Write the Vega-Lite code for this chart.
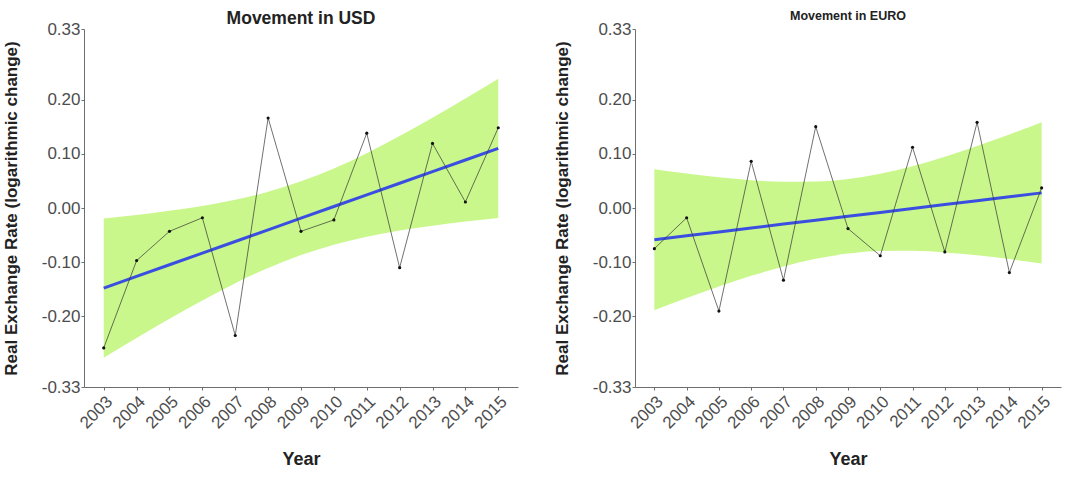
{
  "$schema": "https://vega.github.io/schema/vega-lite/v6.json",
  "background": "white",
  "padding": {"left": 2, "top": 9, "right": 5, "bottom": 5},
  "config": {
    "font": "Liberation Sans",
    "view": {"stroke": null},
    "axis": {
      "grid": false,
      "domainColor": "#6e6e6e",
      "domainWidth": 1,
      "tickColor": "#6e6e6e",
      "tickSize": 3,
      "labelFont": "Liberation Sans",
      "labelFontSize": 17,
      "labelColor": "#4d4d4d",
      "labelOverlap": false,
      "titleFont": "Liberation Sans",
      "titleFontSize": 17,
      "titleFontWeight": "bold",
      "titleColor": "#222222"
    },
    "concat": {"spacing": 35}
  },
  "datasets": {
    "usd": [
      {"year": 2003, "value": -0.258, "fit": -0.1476, "lo": -0.2760, "hi": -0.0192},
      {"year": 2004, "value": -0.097, "fit": -0.1261, "lo": -0.2395, "hi": -0.0127},
      {"year": 2005, "value": -0.043, "fit": -0.1046, "lo": -0.2041, "hi": -0.0051},
      {"year": 2006, "value": -0.018, "fit": -0.0832, "lo": -0.1703, "hi": 0.0039},
      {"year": 2007, "value": -0.235, "fit": -0.0617, "lo": -0.1387, "hi": 0.0153},
      {"year": 2008, "value": 0.166, "fit": -0.0403, "lo": -0.1106, "hi": 0.0300},
      {"year": 2009, "value": -0.043, "fit": -0.0188, "lo": -0.0868, "hi": 0.0492},
      {"year": 2010, "value": -0.022, "fit": 0.0027, "lo": -0.0676, "hi": 0.0730},
      {"year": 2011, "value": 0.138, "fit": 0.0241, "lo": -0.0529, "hi": 0.1011},
      {"year": 2012, "value": -0.110, "fit": 0.0456, "lo": -0.0415, "hi": 0.1327},
      {"year": 2013, "value": 0.119, "fit": 0.0670, "lo": -0.0325, "hi": 0.1665},
      {"year": 2014, "value": 0.011, "fit": 0.0885, "lo": -0.0249, "hi": 0.2019},
      {"year": 2015, "value": 0.148, "fit": 0.1100, "lo": -0.0184, "hi": 0.2384}
    ],
    "euro": [
      {"year": 2003, "value": -0.075, "fit": -0.0585, "lo": -0.1885, "hi": 0.0715},
      {"year": 2004, "value": -0.018, "fit": -0.0513, "lo": -0.1661, "hi": 0.0635},
      {"year": 2005, "value": -0.190, "fit": -0.0441, "lo": -0.1448, "hi": 0.0566},
      {"year": 2006, "value": 0.086, "fit": -0.0369, "lo": -0.1251, "hi": 0.0513},
      {"year": 2007, "value": -0.133, "fit": -0.0297, "lo": -0.1077, "hi": 0.0483},
      {"year": 2008, "value": 0.150, "fit": -0.0225, "lo": -0.0937, "hi": 0.0487},
      {"year": 2009, "value": -0.038, "fit": -0.0153, "lo": -0.0841, "hi": 0.0535},
      {"year": 2010, "value": -0.088, "fit": -0.0081, "lo": -0.0793, "hi": 0.0631},
      {"year": 2011, "value": 0.112, "fit": -0.0009, "lo": -0.0789, "hi": 0.0771},
      {"year": 2012, "value": -0.081, "fit": 0.0063, "lo": -0.0819, "hi": 0.0945},
      {"year": 2013, "value": 0.158, "fit": 0.0135, "lo": -0.0872, "hi": 0.1142},
      {"year": 2014, "value": -0.119, "fit": 0.0207, "lo": -0.0941, "hi": 0.1355},
      {"year": 2015, "value": 0.037, "fit": 0.0279, "lo": -0.1021, "hi": 0.1579}
    ]
  },
  "hconcat": [
    {
      "title": {"text": "Movement in USD", "fontSize": 17.5, "fontWeight": "bold", "color": "#222222", "offset": -7},
      "width": 434,
      "height": 358,
      "data": {"name": "usd"},
      "encoding": {
        "x": {
          "field": "year", "type": "quantitative",
          "scale": {"domain": [2002.4, 2015.6], "nice": false, "zero": false},
          "axis": {"title": "Year", "values": [2003, 2004, 2005, 2006, 2007, 2008, 2009, 2010, 2011, 2012, 2013, 2014, 2015], "format": "d", "labelAngle": -45, "labelAlign": "right", "labelBaseline": "top", "labelDx": 7, "labelPadding": 3, "titlePadding": 19, "titleFontSize": 18, "labelFlush": false}
        }
      },
      "layer": [
        {
          "mark": {"type": "area", "color": "#c9f78b", "opacity": 1, "interpolate": "monotone"},
          "encoding": {
            "y": {"field": "lo", "type": "quantitative", "scale": {"domain": [-0.33, 0.33], "nice": false, "zero": false},
              "axis": {"title": "Real Exchange Rate (logarithmic change)", "values": [-0.33, -0.2, -0.1, 0, 0.1, 0.2, 0.33], "labelExpr": "replace(format(datum.value, '.2f'), '\u2212', '-')", "labelPadding": 1, "titlePadding": 21, "labelFlush": false}},
            "y2": {"field": "hi"}
          }
        },
        {
          "mark": {"type": "rule", "color": "#1a1a1a", "strokeWidth": 0.8},
          "encoding": {"y": {"datum": 0}}
        },
        {
          "mark": {"type": "line", "color": "#3a4fe2", "strokeWidth": 3},
          "encoding": {"y": {"field": "fit", "type": "quantitative"}}
        },
        {
          "mark": {"type": "line", "color": "#333333", "strokeWidth": 0.7},
          "encoding": {"y": {"field": "value", "type": "quantitative"}}
        },
        {
          "mark": {"type": "point", "filled": true, "color": "#111111", "size": 10, "opacity": 1},
          "encoding": {"y": {"field": "value", "type": "quantitative"}}
        }
      ]
    },
    {
      "title": {"text": "Movement in EURO", "fontSize": 12.5, "fontWeight": "bold", "color": "#222222", "offset": -2.5},
      "width": 426,
      "height": 358,
      "data": {"name": "euro"},
      "encoding": {
        "x": {
          "field": "year", "type": "quantitative",
          "scale": {"domain": [2002.4, 2015.6], "nice": false, "zero": false},
          "axis": {"title": "Year", "values": [2003, 2004, 2005, 2006, 2007, 2008, 2009, 2010, 2011, 2012, 2013, 2014, 2015], "format": "d", "labelAngle": -45, "labelAlign": "right", "labelBaseline": "top", "labelDx": 7, "labelPadding": 3, "titlePadding": 19, "titleFontSize": 18, "labelFlush": false}
        }
      },
      "layer": [
        {
          "mark": {"type": "area", "color": "#c9f78b", "opacity": 1, "interpolate": "monotone"},
          "encoding": {
            "y": {"field": "lo", "type": "quantitative", "scale": {"domain": [-0.33, 0.33], "nice": false, "zero": false},
              "axis": {"title": "Real Exchange Rate (logarithmic change)", "values": [-0.33, -0.2, -0.1, 0, 0.1, 0.2, 0.33], "labelExpr": "replace(format(datum.value, '.2f'), '\u2212', '-')", "labelPadding": 1, "titlePadding": 21, "labelFlush": false}},
            "y2": {"field": "hi"}
          }
        },
        {
          "mark": {"type": "rule", "color": "#1a1a1a", "strokeWidth": 0.8},
          "encoding": {"y": {"datum": 0}}
        },
        {
          "mark": {"type": "line", "color": "#3a4fe2", "strokeWidth": 3},
          "encoding": {"y": {"field": "fit", "type": "quantitative"}}
        },
        {
          "mark": {"type": "line", "color": "#333333", "strokeWidth": 0.7},
          "encoding": {"y": {"field": "value", "type": "quantitative"}}
        },
        {
          "mark": {"type": "point", "filled": true, "color": "#111111", "size": 10, "opacity": 1},
          "encoding": {"y": {"field": "value", "type": "quantitative"}}
        }
      ]
    }
  ]
}
